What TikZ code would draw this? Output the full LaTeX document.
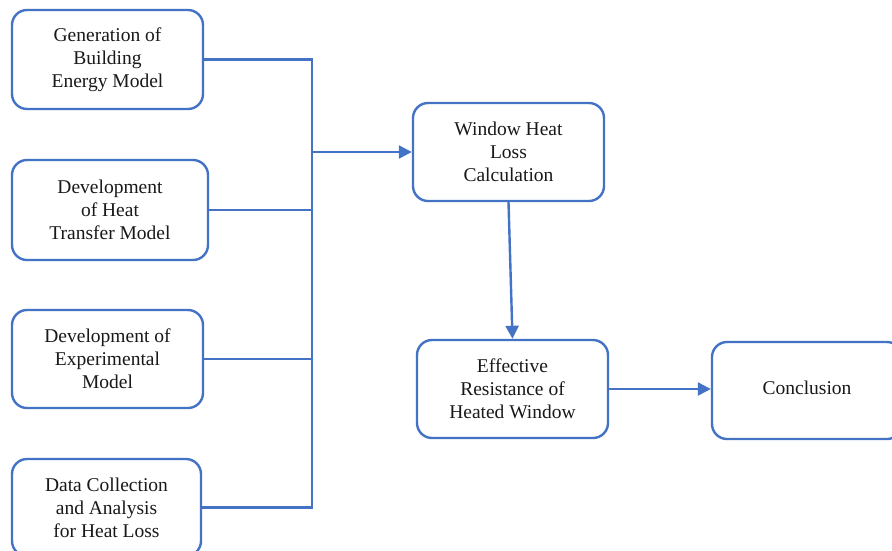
\documentclass[tikz,border=0pt]{standalone}
\usepackage{fontspec}
\setmainfont{Liberation Serif}
\usetikzlibrary{arrows.meta}
\definecolor{lineblue}{RGB}{68,114,196}
\definecolor{txt}{RGB}{25,25,25}
\begin{document}
\begin{tikzpicture}[x=1pt,y=-1pt,
  box/.style={draw=lineblue, line width=2.4pt, rounded corners=15pt, fill=white,
    align=center, text=txt, font=\fontsize{19.5}{23}\selectfont, inner sep=0pt},
  conn/.style={draw=lineblue, line width=2.4pt},
  arr/.style={conn, -{Triangle[length=13pt,width=13pt]}}]
\useasboundingbox (0,0) rectangle (892,550);
\clip (0,0) rectangle (892,550);
\fill[white] (0,0) rectangle (892,550);
\node[box, minimum width=191pt, minimum height=99pt] (b1) at (107.5,59.5) {Generation of\\Building\\Energy Model};
\node[box, minimum width=196pt, minimum height=100pt] (b2) at (110,210) {Development\\of Heat\\Transfer Model};
\node[box, minimum width=191pt, minimum height=98pt] (b3) at (107.5,359) {Development of\\Experimental\\Model};
\node[box, minimum width=189pt, minimum height=97pt] (b4) at (106.5,507.5) {Data Collection\\and Analysis\\for Heat Loss};
\node[box, minimum width=191pt, minimum height=98pt] (b5) at (508.5,152) {Window Heat\\Loss\\Calculation};
\node[box, minimum width=191pt, minimum height=98pt] (b6) at (512.5,389) {Effective\\Resistance of\\Heated Window};
\node[box, minimum width=190pt, minimum height=97pt] (b7) at (807,390.5) {\raisebox{5pt}{Conclusion}};
\coordinate (bus) at (312,0);
\draw[conn, line join=miter] (b1.east) -- (b1.east -| bus) -- (b4.east -| bus) -- (b4.east);
\draw[conn] (b2.east) -- (b2.east -| bus);
\draw[conn] (b3.east) -- (b3.east -| bus);
\draw[arr] (b5.west -| bus) -- (b5.west);
\draw[arr] (b5.south) -- (b6.north);
\draw[arr] (b6.east) -- (b6.east -| b7.west);
\end{tikzpicture}
\end{document}
